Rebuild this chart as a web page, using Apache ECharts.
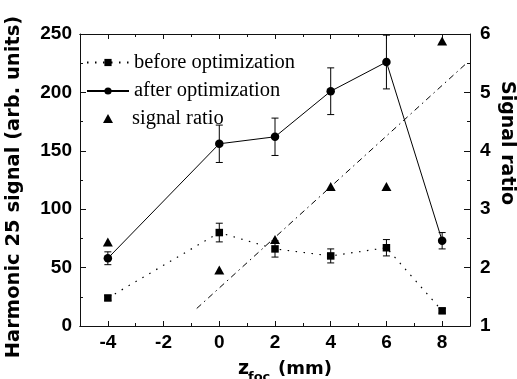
<!DOCTYPE html>
<html>
<head>
<meta charset="utf-8">
<script src="https://cdn.jsdelivr.net/npm/echarts@6/dist/echarts.min.js"></script>
<style>
html,body{margin:0;padding:0;background:#fff;}
#chart{width:517px;height:379px;}
</style>
</head>
<body>
<div id="chart"></div>
<script>
// ---- data ----
const zPos = [-4, 0, 2, 4, 6, 8];
const beforeVals = [24, 80, 66, 60, 67, 13];
const beforeErr = [2, 8, 7, 6, 7, 2];
const afterVals = [58, 156, 162, 201, 226, 73];
const afterErr = [5.5, 16, 16, 20, 23, 7];
const ratioVals = [2.44, 1.96, 2.48, 3.39, 3.39, 5.88];
const fitX = [-0.81, 8.9];
const fitY = [1.30, 5.51];
const xTicks = [-4, -2, 0, 2, 4, 6, 8];
const xMinorTicks = [-3, -1, 1, 3, 5, 7];
const seriesNames = ['before optimization', 'after optimization', 'signal ratio'];

const chart = echarts.init(document.getElementById('chart'), null, {renderer: 'canvas'});

const axisColor = '#111';
const labelFont = {color: '#000', fontFamily: '"Liberation Sans", Arial, sans-serif', fontWeight: 'bold', fontSize: 19};
const legendFont = {fontFamily: '"Liberation Serif", "Times New Roman", serif', fontSize: 20.5, color: '#000'};

function xAx(pos, major, labels) {
  return {
    type: 'value', position: pos, min: -5, max: 9,
    axisLine: {show: true, onZero: false, lineStyle: {color: axisColor, width: 1}},
    axisTick: {show: true, inside: true, length: major ? 5 : 3, customValues: major ? xTicks : xMinorTicks, lineStyle: {color: axisColor}},
    axisLabel: labels ? Object.assign({show: true, margin: 7, customValues: xTicks}, labelFont) : {show: false},
    splitLine: {show: false}
  };
}

function errSeries(vals, errs) {
  return {
    type: 'custom', xAxisIndex: 0, yAxisIndex: 0, z: 2, silent: true,
    data: zPos.map((x, i) => [x, vals[i], errs[i]]),
    encode: {x: 0, y: 1},
    renderItem: function (params, api) {
      const x = api.value(0), y = api.value(1), e = api.value(2);
      const t = api.coord([x, y + e]);
      const b = api.coord([x, y - e]);
      const w = 3.5;
      const st = {stroke: '#000', lineWidth: 1, fill: null};
      return {type: 'group', children: [
        {type: 'line', shape: {x1: t[0], y1: t[1], x2: b[0], y2: b[1]}, style: st},
        {type: 'line', shape: {x1: t[0] - w, y1: t[1], x2: t[0] + w, y2: t[1]}, style: st},
        {type: 'line', shape: {x1: b[0] - w, y1: b[1], x2: b[0] + w, y2: b[1]}, style: st}
      ]};
    }
  };
}

const option = {
  animation: false,
  backgroundColor: '#fff',
  grid: {left: 80, right: 47, top: 34, bottom: 53},
  legend: [
    {
      left: 81, top: 47, orient: 'vertical',
      itemWidth: 42, itemHeight: 9, itemGap: 7.5,
      textStyle: legendFont,
      data: [{name: seriesNames[0]}, {name: seriesNames[1]}]
    },
    {
      left: 98, top: 103, orient: 'vertical',
      itemWidth: 10, itemHeight: 9,
      textStyle: Object.assign({padding: [0, 0, 0, 14]}, legendFont),
      data: [{name: seriesNames[2], icon: 'triangle'}]
    }
  ],
  xAxis: [xAx('bottom', true, true), xAx('bottom', false, false), xAx('top', true, false), xAx('top', false, false)],
  yAxis: [
    {
      type: 'value', position: 'left', min: 0, max: 250, interval: 50,
      axisLine: {show: true, onZero: false, lineStyle: {color: axisColor, width: 1}},
      axisTick: {show: true, inside: true, length: 6, lineStyle: {color: axisColor}},
      minorTick: {show: true, splitNumber: 2, length: 3, lineStyle: {color: axisColor}},
      axisLabel: Object.assign({margin: 8}, labelFont),
      splitLine: {show: false}
    },
    {
      type: 'value', position: 'right', min: 1, max: 6, interval: 1,
      axisLine: {show: true, onZero: false, lineStyle: {color: axisColor, width: 1}},
      axisTick: {show: true, inside: true, length: 6, lineStyle: {color: axisColor}},
      minorTick: {show: true, splitNumber: 2, length: 3, lineStyle: {color: axisColor}},
      axisLabel: Object.assign({margin: 10}, labelFont),
      splitLine: {show: false}
    }
  ],
  series: [
    {
      name: 'fit', type: 'line', xAxisIndex: 0, yAxisIndex: 1, z: 1,
      data: fitX.map((x, i) => [x, fitY[i]]),
      showSymbol: false, symbol: 'none',
      lineStyle: {color: '#000', width: 1, type: [6, 4, 1.5, 4]}
    },
    errSeries(beforeVals, beforeErr),
    errSeries(afterVals, afterErr),
    {
      name: seriesNames[0], type: 'line', xAxisIndex: 0, yAxisIndex: 0, z: 3,
      data: zPos.map((x, i) => [x, beforeVals[i]]),
      symbol: 'rect', symbolSize: 7.5,
      itemStyle: {color: '#000'},
      lineStyle: {color: '#000', width: 1.2, type: [1.5, 6.5]}
    },
    {
      name: seriesNames[1], type: 'line', xAxisIndex: 0, yAxisIndex: 0, z: 3,
      data: zPos.map((x, i) => [x, afterVals[i]]),
      symbol: 'circle', symbolSize: 8.5,
      itemStyle: {color: '#000'},
      lineStyle: {color: '#000', width: 1, type: 'solid'}
    },
    {
      name: seriesNames[2], type: 'scatter', xAxisIndex: 0, yAxisIndex: 1, z: 3,
      data: zPos.map((x, i) => [x, ratioVals[i]]),
      symbol: 'triangle', symbolSize: [10, 9],
      itemStyle: {color: '#000', opacity: 1}
    }
  ],
  graphic: [
    {type: 'text', x: 14, y: 187, rotation: Math.PI / 2,
     style: {text: 'Harmonic 25 signal (arb. units)', fill: '#000', font: 'bold 19.5px "DejaVu Sans", sans-serif', textAlign: 'center', textVerticalAlign: 'middle'}},
    {type: 'text', x: 507, y: 143, rotation: -Math.PI / 2,
     style: {text: 'Signal ratio', fill: '#000', font: 'bold 19px "DejaVu Sans", sans-serif', textAlign: 'center', textVerticalAlign: 'middle'}},
    {type: 'text', x: 238, y: 369,
     style: {text: 'z', fill: '#000', font: 'bold 19px "DejaVu Sans", sans-serif', textAlign: 'left', textVerticalAlign: 'middle'}},
    {type: 'text', x: 248, y: 378,
     style: {text: 'foc', fill: '#000', font: 'bold 13px "DejaVu Sans", sans-serif', textAlign: 'left', textVerticalAlign: 'middle'}},
    {type: 'text', x: 278, y: 369,
     style: {text: '(mm)', fill: '#000', font: 'bold 18px "DejaVu Sans", sans-serif', textAlign: 'left', textVerticalAlign: 'middle'}}
  ]
};

chart.setOption(option);
</script>
</body>
</html>
